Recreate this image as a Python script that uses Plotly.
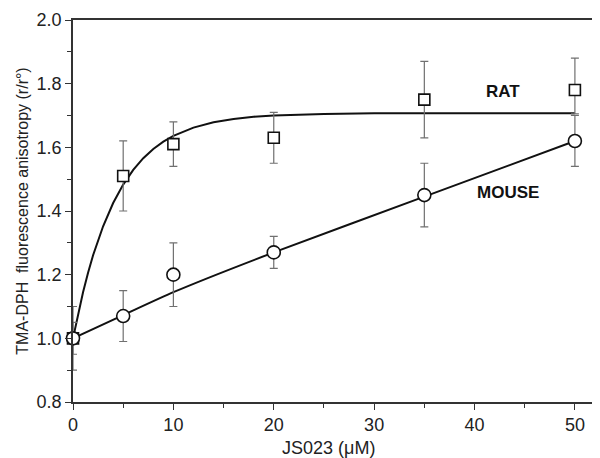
import plotly.graph_objects as go

# Data
conc = [0, 5, 10, 20, 35, 50]
rat_y = [1.00, 1.51, 1.61, 1.63, 1.75, 1.78]
rat_err_plus = [0.10, 0.11, 0.07, 0.08, 0.12, 0.10]
rat_err_minus = [0.10, 0.11, 0.07, 0.08, 0.12, 0.075]
mouse_y = [1.00, 1.07, 1.20, 1.27, 1.45, 1.62]
mouse_err = [0.05, 0.08, 0.10, 0.05, 0.10, 0.08]

# Fitted curves
rat_fit_x = [0, 0.5, 1, 1.5, 2, 3, 4, 5, 6, 7, 8, 9, 10, 12, 14, 16, 18, 20, 25, 30, 40, 50]
rat_fit_y = [1.000, 1.077, 1.145, 1.206, 1.261, 1.352, 1.425, 1.483, 1.529, 1.566, 1.595,
             1.618, 1.636, 1.662, 1.679, 1.689, 1.696, 1.700, 1.705, 1.707, 1.707, 1.707]
mouse_fit_x = [0, 5, 10, 20, 35, 50]
mouse_fit_y = [1.00, 1.073, 1.145, 1.27, 1.445, 1.62]

font_family = "Liberation Sans, Arial, sans-serif"
ink = "#222222"
err_col = "#707070"

fig = go.Figure()

fig.add_trace(go.Scatter(x=rat_fit_x, y=rat_fit_y, mode="lines",
                         line=dict(color="#111111", width=2),
                         hoverinfo="skip", showlegend=False, cliponaxis=False))
fig.add_trace(go.Scatter(x=mouse_fit_x, y=mouse_fit_y, mode="lines",
                         line=dict(color="#111111", width=2, shape="spline", smoothing=0.5),
                         hoverinfo="skip", showlegend=False, cliponaxis=False))

fig.add_trace(go.Scatter(
    x=conc, y=rat_y, mode="markers", name="RAT", showlegend=False, cliponaxis=False,
    marker=dict(symbol="square", size=11, color="white", line=dict(color="#111111", width=1.6)),
    error_y=dict(type="data", array=rat_err_plus, arrayminus=rat_err_minus, symmetric=False,
                 color=err_col, thickness=1.2, width=4)))
fig.add_trace(go.Scatter(
    x=conc, y=mouse_y, mode="markers", name="MOUSE", showlegend=False, cliponaxis=False,
    marker=dict(symbol="circle", size=13, color="white", line=dict(color="#111111", width=1.6)),
    error_y=dict(type="data", array=mouse_err, color=err_col, thickness=1.2, width=4)))

fig.add_annotation(x=42.8, y=1.775, text="<b>RAT</b>", showarrow=False,
                   font=dict(family=font_family, size=17, color="#111111"))
fig.add_annotation(x=43.3, y=1.457, text="<b>MOUSE</b>", showarrow=False,
                   font=dict(family=font_family, size=17, color="#111111"))

# x-axis title placed as a paper annotation so it sits where the reference has it
fig.add_annotation(xref="paper", yref="paper", x=0.484, y=0, yshift=-46,
                   xanchor="center", yanchor="middle", text="JS023 (μM)", showarrow=False,
                   font=dict(family=font_family, size=18, color=ink))

# The page body adds an 8px margin, so the figure is sized to fit inside the window.
fig.update_layout(
    width=592, height=450,
    margin=dict(l=65, r=0, t=12, b=56),
    paper_bgcolor="white", plot_bgcolor="white",
    font=dict(family=font_family, color=ink, size=18),
)
fig.update_xaxes(
    range=[0, 52.5], showgrid=False, zeroline=False, automargin=False,
    showline=True, linecolor="#333333", linewidth=1.5, mirror=True,
    tickmode="array", tickvals=[0, 10, 20, 30, 40, 50],
    ticks="outside", ticklen=6, tickwidth=1.3, tickcolor="#333333",
    minor=dict(tickmode="array", tickvals=[5, 15, 25, 35, 45], ticks="outside", ticklen=4,
               tickwidth=1.2, tickcolor="#333333"),
    tickfont=dict(size=18, color=ink),
)
fig.update_yaxes(
    range=[0.8, 2.0], showgrid=False, zeroline=False, automargin=False,
    showline=True, linecolor="#333333", linewidth=1.5,
    tickmode="array", tickvals=[0.8, 1.0, 1.2, 1.4, 1.6, 1.8, 2.0],
    ticktext=["0.8", "1.0", "1.2", "1.4", "1.6", "1.8", "2.0"],
    ticks="outside", ticklen=6, tickwidth=1.3, tickcolor="#333333",
    minor=dict(tickmode="array", tickvals=[0.9, 1.1, 1.3, 1.5, 1.7, 1.9], ticks="outside",
               ticklen=4, tickwidth=1.2, tickcolor="#333333"),
    tickfont=dict(size=18, color=ink),
    title=dict(text="TMA-DPH  fluorescence anisotropy (r/r°)", font=dict(size=16, color=ink), standoff=4),
)

fig.write_html("out.html")
